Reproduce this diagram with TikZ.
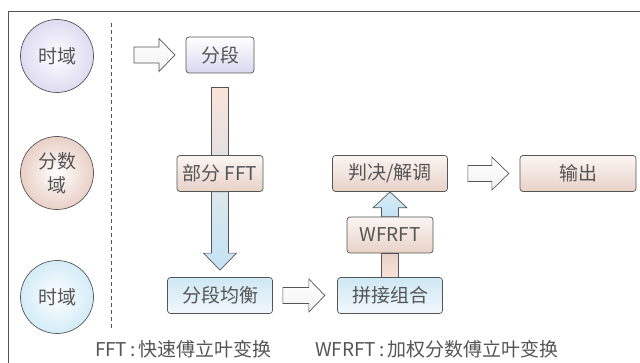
\documentclass[tikz,border=0pt]{standalone}
\usepackage{fontspec}
\setmainfont{Noto Sans CJK SC}
\usetikzlibrary{calc}
\definecolor{txt}{HTML}{555555}
\definecolor{edge}{HTML}{555555}
\definecolor{lav}{HTML}{DAD8EF}
\definecolor{pinkb}{HTML}{E8D2C8}
\definecolor{pinkt}{HTML}{FBF5F2}
\definecolor{blueb}{HTML}{F1F8FC}
\definecolor{bluet}{HTML}{CFE8F5}
\definecolor{barpink}{HTML}{FAE3D9}
\definecolor{bargray}{HTML}{E4E2E2}
\definecolor{arrblue}{HTML}{C3E3F4}
\definecolor{arrtop}{HTML}{DDE7EC}
\definecolor{clav}{HTML}{DEDBF2}
\definecolor{cpink}{HTML}{E9D0C6}
\definecolor{cblue}{HTML}{D3ECF8}
\tikzset{
  box/.style={draw=edge, line width=0.7pt, rounded corners=3pt, minimum height=36pt,
    inner sep=0pt, text=txt, font=\fontsize{19}{22}\selectfont},
  lavbox/.style={box, top color=white, bottom color=lav},
  pinkbox/.style={box, top color=pinkt, bottom color=pinkb},
  bluebox/.style={box, top color=bluet, bottom color=blueb},
  circ/.style={circle, draw=edge, line width=0.7pt, minimum size=73pt, inner sep=0pt,
    text=txt, font=\fontsize{19}{24}\selectfont, align=center, inner color=white},
  harrow/.style={draw=edge, line width=0.7pt, top color=white, bottom color=white!90!gray, line join=miter},
  bararrow/.style={draw=edge, line width=0.7pt},
  caption/.style={text=txt, font=\fontsize{19}{22}\selectfont, inner sep=0pt}
}
\begin{document}
\begin{tikzpicture}[x=1pt,y=-1pt]
\useasboundingbox (0,0) rectangle (640,363);
% frame
\draw[edge, line width=0.8pt] (8,363) -- (8,11) -- (640,11);
\draw[edge, line width=0.7pt, dash pattern=on 4.5pt off 2.5pt] (111,23) -- (111,330);
% circles
\node[circ, outer color=clav] (c1) at (57,56) {时域};
\node[circ, outer color=cpink] (c2) at (57,173) {分数\\域};
\node[circ, outer color=cblue] (c3) at (57,297) {时域};
% boxes
\node[lavbox, minimum width=68pt] (seg) at (220,55) {分段};
\node[pinkbox, minimum width=86pt] (fft) at (220,173.5) {部分 FFT};
\node[bluebox, minimum width=105pt] (eq) at (220,295.5) {分段均衡};
\node[bluebox, minimum width=105pt] (pj) at (390,295.5) {拼接组合};
\node[pinkbox, minimum width=86pt] (wf) at (390,235) {WFRFT};
\node[pinkbox, minimum width=115pt] (jd) at (390,173.5) {判决/解调};
\node[pinkbox, minimum width=116pt] (out) at (578,173.5) {输出};
% bars and block arrows
\path[bararrow, top color=barpink, bottom color=bargray]
  ($(seg.south)+(-8.5,14)$) rectangle ($(fft.north)+(8.5,0)$);
\path[bararrow, top color=arrtop, bottom color=arrblue]
  ($(fft.south)+(-8.5,0)$) -- ($(eq.north)+(-8.5,-24)$) -- ++(-8,0)
  -- ($(eq.north)+(0,-7)$) -- ($(eq.north)+(16.5,-24)$) -- ++(-8,0)
  -- ($(fft.south)+(8.5,0)$) -- cycle;
\path[bararrow, top color=pinkb, bottom color=barpink]
  ($(wf.south)+(-8.5,0)$) rectangle ($(pj.north)+(8.5,0)$);
\path[bararrow, top color=arrblue!70!white, bottom color=arrblue]
  ($(wf.north)+(-8.5,0)$) -- ($(jd.south)+(-8.5,16)$) -- ++(-8.5,0)
  -- (jd.south) -- ($(jd.south)+(17,16)$) -- ++(-8.5,0)
  -- ($(wf.north)+(8.5,0)$) -- cycle;
% hollow arrows
\coordinate (in) at (134,55);
\path[harrow] (in) ++(0,-8) -- ++(25,0) -- ++(0,-8.5) -- ++(16,16.5) -- ++(-16,16.5)
  -- ++(0,-8.5) -- ++(-25,0) -- cycle;
\path[harrow] ($(eq.east)+(10,0)$) ++(0,-8) -- ++(26,0) -- ++(0,-8.5) -- ++(16,16.5) -- ++(-16,16.5)
  -- ++(0,-8.5) -- ++(-26,0) -- cycle;
\path[harrow] ($(jd.east)+(20,0)$) ++(0,-8) -- ++(24,0) -- ++(0,-8.5) -- ++(17,16.5) -- ++(-17,16.5)
  -- ++(0,-8.5) -- ++(-24,0) -- cycle;
% captions
\node[caption] (cap1) at (183.5,349) {FFT\,:\,快速傅立叶变换};
\node[caption] (cap2) at (437,349) {WFRFT\,:\,加权分数傅立叶变换};
\end{tikzpicture}
\end{document}
